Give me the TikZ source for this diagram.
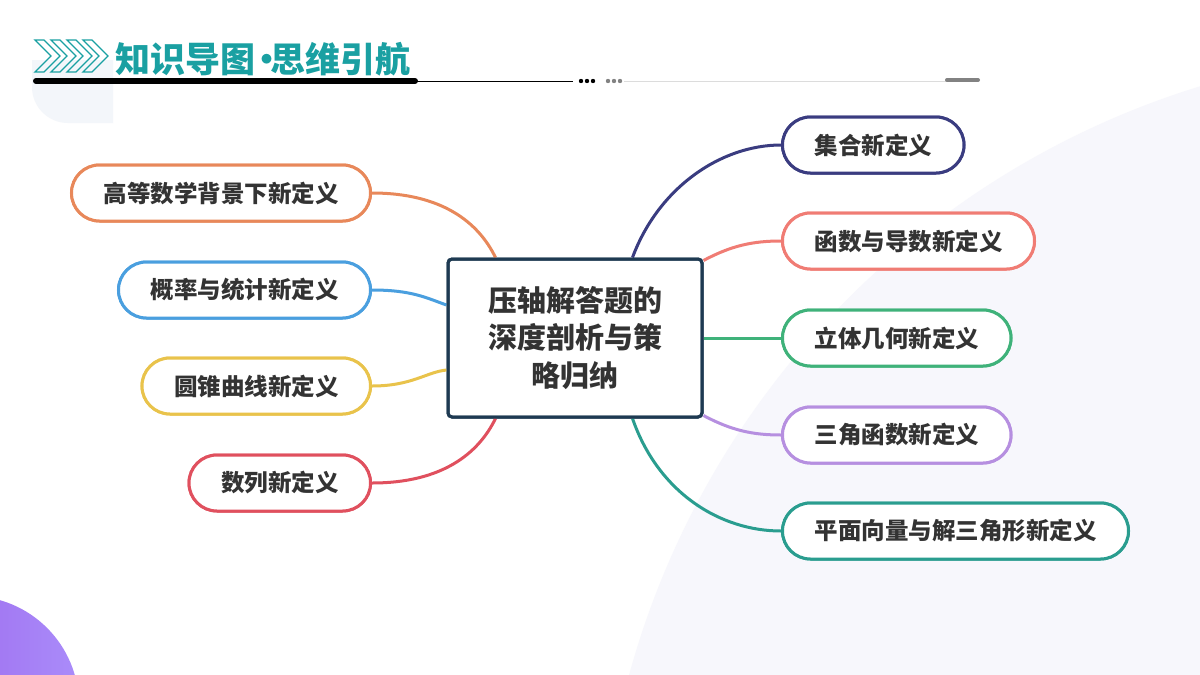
\documentclass[tikz,border=0pt]{standalone}
\usepackage{fontspec}
\newfontfamily\cjk{Noto Sans CJK SC}
\usetikzlibrary{calc}
\definecolor{txt}{HTML}{333333}
\definecolor{teal1}{HTML}{1AA0A2}
\definecolor{cnavy}{HTML}{3A3C80}
\definecolor{csalmon}{HTML}{F07C74}
\definecolor{cgreen}{HTML}{3FB27A}
\definecolor{cpurple}{HTML}{B68FE0}
\definecolor{cteal}{HTML}{2A9D8F}
\definecolor{corange}{HTML}{E8885A}
\definecolor{cblue}{HTML}{4A9FDF}
\definecolor{cyellow}{HTML}{E9C34B}
\definecolor{cred}{HTML}{E0505E}
\definecolor{boxc}{HTML}{1E3A52}
\definecolor{bglav}{HTML}{F7F7FC}
\definecolor{bggrey}{HTML}{F3F6FA}
\tikzset{
  leaf/.style={draw=#1, line width=3pt, fill=white, rounded corners=28pt,
    minimum height=56pt, inner xsep=32pt, inner ysep=0pt, text=txt,
    font=\cjk\bfseries\fontsize{23.5}{28}\selectfont},
  centerbox/.style={draw=boxc, line width=3pt, rounded corners=4pt,
    minimum width=254pt, minimum height=158pt, inner sep=0pt},
  link/.style={draw=#1, line width=3pt},
  chev/.style={draw=teal1, line width=1.3pt, line join=miter}
}
\begin{document}
\begin{tikzpicture}[x=1pt,y=-1pt]
\useasboundingbox (0,0) rectangle (1200,675);
% backgrounds
\fill[white] (0,0) rectangle (1200,675);
\begin{scope}
\clip (0,0) rectangle (1200,675);
\fill[bglav] (1450,900) circle (851);
\shade[left color={rgb,255:red,150;green,90;blue,230}, right color={rgb,255:red,170;green,140;blue,250}] (-30,705) circle (109);
\end{scope}
\fill[bggrey] (32,60) [rounded corners=36pt] -- (32,123) [sharp corners] -- (113,123) -- (113,60) -- cycle;
% header chevrons
\foreach \x in {35,51,67,83}{
  \draw[chev] (\x,40) -- (\x+9,40) -- (\x+25,56) -- (\x+9,72) -- (\x,72) -- (\x+16,56) -- cycle;
}
\node[anchor=west, text=teal1, font=\cjk\bfseries\fontsize{35}{38}\selectfont, inner sep=0pt] (title) at (115,59) {知识导图\kern-6pt•\kern-14pt思维引航};
% header lines
\draw[line width=6pt, line cap=round] (36,81) -- (415,81);
\draw[line width=1pt] (415,81) -- (573,81);
\foreach \x in {581,587,593}{\fill (\x,81) circle (2.2);}
\foreach \x in {608,614,620}{\fill[color={rgb,255:red,130;green,130;blue,130}] (\x,81) circle (2.2);}
\draw[line width=1pt, color={rgb,255:red,220;green,220;blue,220}] (624,81) -- (946,81);
\draw[line width=4pt, line cap=round, color={rgb,255:red,130;green,130;blue,130}] (947,80) -- (978,80);
% center
\node[centerbox, fill=white, text=txt, align=center, font=\cjk\bfseries\fontsize{29}{37.5}\selectfont] (c) at (575,338) {压轴解答题的\\深度剖析与策\\略归纳};
% leaves right
\node[leaf=cnavy, anchor=west] (r1) at (781,145) {集合新定义};
\node[leaf=csalmon, anchor=west] (r2) at (781,241) {函数与导数新定义};
\node[leaf=cgreen, anchor=west] (r3) at (781,338) {立体几何新定义};
\node[leaf=cpurple, anchor=west] (r4) at (781,435) {三角函数新定义};
\node[leaf=cteal, anchor=west] (r5) at (781,531) {平面向量与解三角形新定义};
% leaves left
\node[leaf=corange, anchor=east] (l1) at (372,193) {高等数学背景下新定义};
\node[leaf=cblue, anchor=east] (l2) at (372,290) {概率与统计新定义};
\node[leaf=cyellow, anchor=east] (l3) at (372,386) {圆锥曲线新定义};
\node[leaf=cred, anchor=east] (l4) at (372,483) {数列新定义};
% connectors
\path[link=cnavy] ($(c.north west)+(186,0)$) .. controls ($(c.north west)+(212,-70)$) and ($(r1.west)+(-60,0)$) .. (r1.west);
\path[link=csalmon] ($(c.north east)+(0,3)$) .. controls ($(c.north east)+(28,-12)$) and ($(r2.west)+(-28,0)$) .. (r2.west);
\path[link=cgreen] (c.east) -- (r3.west);
\path[link=cpurple] ($(c.south east)+(0,-3)$) .. controls ($(c.south east)+(28,12)$) and ($(r4.west)+(-28,0)$) .. (r4.west);
\path[link=cteal] ($(c.south west)+(186,0)$) .. controls ($(c.south west)+(212,75)$) and ($(r5.west)+(-60,0)$) .. (r5.west);
\path[link=corange] (l1.east) .. controls ($(l1.east)+(70,0)$) and ($(c.north west)+(32,-35)$) .. ($(c.north west)+(49,0)$);
\path[link=cblue] (l2.east) .. controls ($(l2.east)+(40,0)$) and ($(c.west)+(-20,-40)$) .. ($(c.west)+(0,-33)$);
\path[link=cyellow] (l3.east) .. controls ($(l3.east)+(40,0)$) and ($(c.west)+(-20,34)$) .. ($(c.west)+(0,32)$);
\path[link=cred] (l4.east) .. controls ($(l4.east)+(70,0)$) and ($(c.south west)+(32,35)$) .. ($(c.south west)+(49,0)$);
% outlines redrawn over connector ends
\node[centerbox] (c2) at (c.center) {};
\node[leaf=cnavy, anchor=west] (r1b) at (r1.west) {集合新定义};
\node[leaf=csalmon, anchor=west] (r2b) at (r2.west) {函数与导数新定义};
\node[leaf=cgreen, anchor=west] (r3b) at (r3.west) {立体几何新定义};
\node[leaf=cpurple, anchor=west] (r4b) at (r4.west) {三角函数新定义};
\node[leaf=cteal, anchor=west] (r5b) at (r5.west) {平面向量与解三角形新定义};
\node[leaf=corange, anchor=east] (l1b) at (l1.east) {高等数学背景下新定义};
\node[leaf=cblue, anchor=east] (l2b) at (l2.east) {概率与统计新定义};
\node[leaf=cyellow, anchor=east] (l3b) at (l3.east) {圆锥曲线新定义};
\node[leaf=cred, anchor=east] (l4b) at (l4.east) {数列新定义};
\end{tikzpicture}
\end{document}
